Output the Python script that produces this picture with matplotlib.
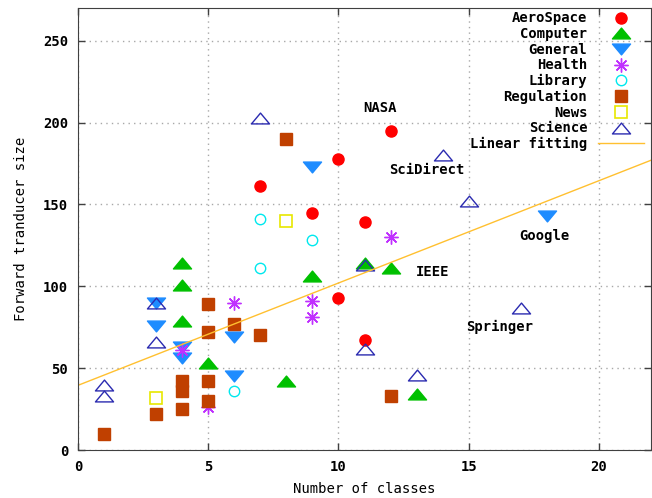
import matplotlib
matplotlib.use("Agg")
import matplotlib.pyplot as plt
from matplotlib.path import Path

# number of classes (x) vs forward transducer size (y) per corpus
aero_x = [7, 9, 10, 12, 11, 10, 11]
aero_y = [161, 145, 178, 195, 139, 93, 67]

comp_x = [4, 4, 4, 5, 8, 9, 11, 12, 13]
comp_y = [114, 101, 79, 53, 42, 106, 114, 111, 34]

gen_x = [3, 3, 4, 4, 6, 6, 9, 18]
gen_y = [90, 76, 63, 56, 69, 45, 173, 143]

health_x = [6, 4, 5, 9, 9, 12]
health_y = [90, 61, 26, 91, 81, 130]

lib_x = [7, 7, 9, 6]
lib_y = [141, 111, 128, 36]

reg_x = [1, 3, 4, 4, 4, 5, 5, 5, 5, 6, 7, 8, 12]
reg_y = [10, 22, 25, 36, 42, 89, 72, 42, 30, 77, 70, 190, 33]

news_x = [3, 8]
news_y = [32, 140]

sci_x = [1, 1, 3, 3, 7, 11, 11, 13, 14, 15, 17]
sci_y = [40, 33, 90, 66, 203, 113, 62, 46, 180, 152, 87]

fit_a = 39.5
fit_b = 6.25

names = ["NASA", "SciDirect", "Google", "IEEE", "Springer"]
name_x = [11.6, 13.4, 17.9, 13.6, 16.2]
name_y = [209, 171, 131, 109, 75]

plt.rcParams['font.family'] = 'DejaVu Sans Mono'
plt.rcParams['font.weight'] = 'bold'
plt.rcParams['font.size'] = 10

# flat gnuplot-style triangles
tri_up = Path([(-1, -0.6), (1, -0.6), (0, 0.6), (-1, -0.6)],
              [Path.MOVETO, Path.LINETO, Path.LINETO, Path.CLOSEPOLY])
tri_dn = Path([(-1, 0.6), (1, 0.6), (0, -0.6), (-1, 0.6)],
              [Path.MOVETO, Path.LINETO, Path.LINETO, Path.CLOSEPOLY])

fig = plt.figure(figsize=(6.52, 4.98), dpi=100)
ax = fig.add_axes([78/652, 48/498, 573/652, 442/498])

ax.plot(aero_x, aero_y, 'o', color='#ff0000', ms=8, mec='#ff0000', ls='none', label='AeroSpace')
ax.plot(comp_x, comp_y, marker=tri_up, color='#00c000', ms=13, ls='none', label='Computer')
ax.plot(gen_x, gen_y, marker=tri_dn, color='#1e8cff', ms=13, ls='none', label='General')
ax.plot(health_x, health_y, marker=(8, 2, 0), color='#c030ff', ms=10, mew=1, ls='none', label='Health')
ax.plot(lib_x, lib_y, 'o', mfc='none', mec='#00e8ee', ms=7.5, mew=1, ls='none', label='Library')
ax.plot(reg_x, reg_y, 's', color='#c04000', ms=9.3, ls='none', label='Regulation')
ax.plot(news_x, news_y, 's', mfc='none', mec='#e8e800', ms=8.6, mew=1.2, ls='none', label='News')
ax.plot(sci_x, sci_y, marker=tri_up, mfc='none', mec='#2a2ab0', ms=13, mew=1, ls='none', label='Science')

xs = [0, 22]
ax.plot(xs, [fit_a + fit_b * v for v in xs], color='#ffc030', lw=1, label='Linear fitting')

for n, x, y in zip(names, name_x, name_y):
    ax.text(x, y, n, ha='center', va='center')

ax.set_xlim(0, 22)
ax.set_ylim(0, 270)
ax.set_xticks([0, 5, 10, 15, 20])
ax.set_yticks([0, 50, 100, 150, 200, 250])
ax.tick_params(direction='in', top=True, right=True, length=5, width=1, color='#404040')
ax.tick_params(axis='x', pad=7)
ax.tick_params(axis='y', pad=7)
ax.grid(True, color='#a8a8a8', ls=(0, (1, 3)), lw=1)
for s in ax.spines.values():
    s.set_color('#404040')

ax.set_xlabel('Number of classes', labelpad=6)
ax.set_ylabel('Forward tranducer size', labelpad=11)

ax.legend(loc='upper right', bbox_to_anchor=(1.0 - 6/573, 1.0 - 2/442), frameon=False, markerfirst=False,
          handlelength=3.3, handletextpad=0.75, labelspacing=0.12, borderaxespad=0.0,
          borderpad=0.1, numpoints=1)

fig.savefig('out.png', dpi=100)
